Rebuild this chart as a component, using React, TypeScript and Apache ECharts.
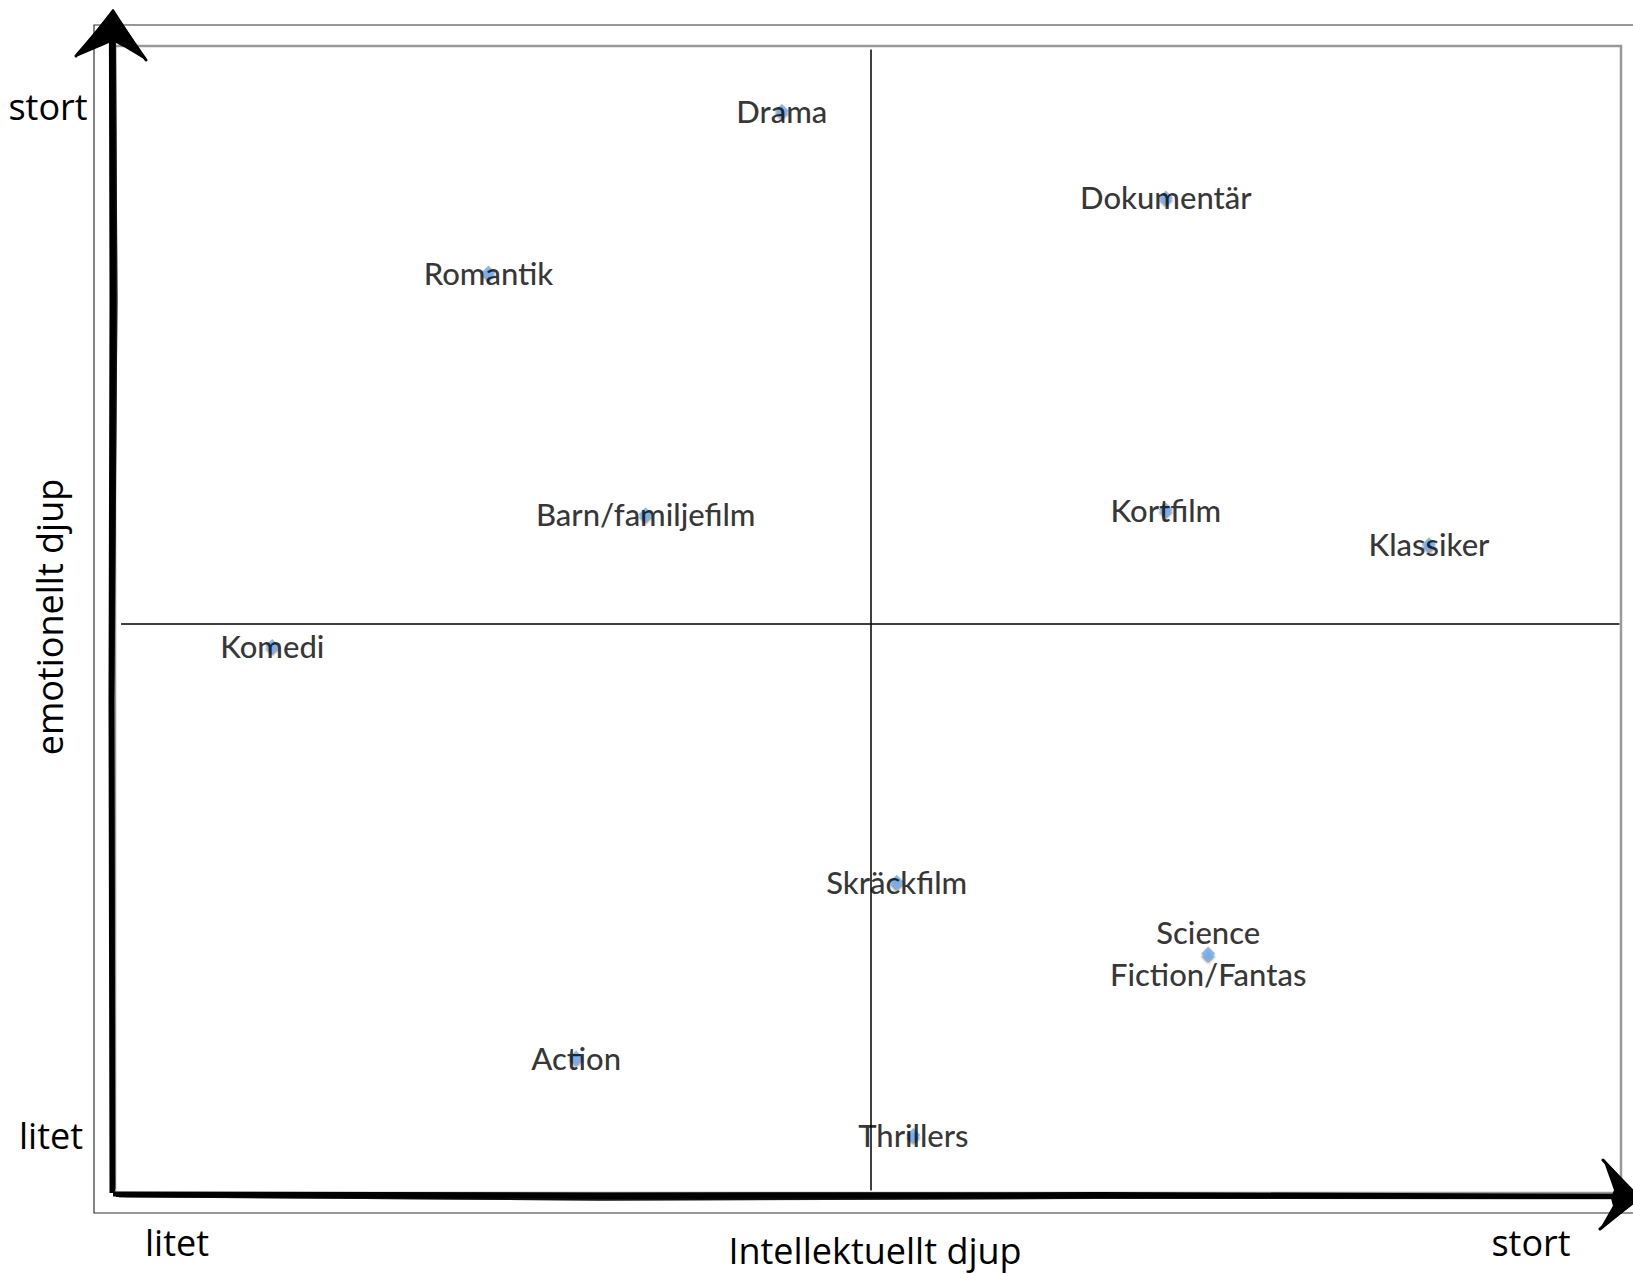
import React, { useEffect, useRef } from "react";
import * as echarts from "echarts";

const genres = ["Drama", "Dokumentär", "Romantik", "Barn/familjefilm", "Kortfilm", "Klassiker", "Komedi", "Skräckfilm", "Science\nFiction/Fantas", "Action", "Thrillers"];
const intellectual = [4.41, 6.95, 2.47, 3.51, 6.95, 8.69, 1.04, 5.17, 7.23, 3.05, 5.28];
const emotional = [9.44, 8.69, 8.04, 5.95, 5.99, 5.69, 4.81, 2.77, 2.15, 1.25, 0.58];
const axisLow = "litet";
const axisHigh = "stort";
const xTitle = "Intellektuellt djup";
const yTitle = "emotionellt djup";

const W = 1633;
const H = 1274;
const AXIS_FONT = "'Open Sans', 'Noto Sans', sans-serif";
const LABEL_FONT = "Lato, 'Noto Sans', sans-serif";

export default function App() {
  const ref = useRef<HTMLDivElement>(null);
  useEffect(() => {
    if (!ref.current) return;
    const chart = echarts.init(ref.current, undefined, { renderer: "svg" });
    const data = genres.map((g, i) => ({ name: g, value: [intellectual[i], emotional[i]] }));
    const axisText = (text: string, x: number, y: number, extra: any = {}) => ({
      type: "text",
      x,
      y,
      ...extra,
      style: { text, fill: "#000", font: `36px ${AXIS_FONT}`, textAlign: "center", textVerticalAlign: "middle" },
      z: 10,
    });
    const sketchLines: any[] = [];
    const vOff = [[-2, 5, 1], [0, 4, 1], [2, 3, 0.8], [-1, 2, 0.7], [3, 1, 0.6]];
    vOff.forEach(([dx, w, o], k) => {
      sketchLines.push({
        type: "polyline",
        shape: { points: [[113 + dx * 0.5, 1193 - k * 2], [112 + dx * 0.5, 700], [114 + dx, 300], [113 + dx * 0.8, 40]] },
        style: { stroke: "#000", lineWidth: w, fill: null, opacity: o },
        z: 20,
      });
    });
    const hOff = [[-2, 5, 1], [0, 4, 1], [2, 3, 0.8], [-3, 2, 0.6], [3, 1.5, 0.7]];
    hOff.forEach(([dy, w, o], k) => {
      sketchLines.push({
        type: "polyline",
        shape: { points: [[113 + k * 3, 1195 + dy * 0.5], [600, 1197 + dy], [1100, 1196 + dy * 0.7], [1620, 1197 + dy * 0.4]] },
        style: { stroke: "#000", lineWidth: w, fill: null, opacity: o },
        z: 20,
      });
    });
    // filled arrowheads
    sketchLines.push({
      type: "polygon",
      shape: { points: [[113, 10], [78, 55], [104, 44], [113, 40], [124, 46], [144, 58]] },
      style: { fill: "#000", stroke: "#000", lineWidth: 2, lineJoin: "round" },
      z: 21,
    });
    sketchLines.push({
      type: "polygon",
      shape: { points: [[1640, 1198], [1605, 1162], [1615, 1190], [1612, 1198], [1614, 1206], [1602, 1227]] },
      style: { fill: "#000", stroke: "#000", lineWidth: 2, lineJoin: "round" },
      z: 21,
    });
    // brush barbs
    [[[76, 56], [112, 14]], [[146, 60], [114, 14]], [[1603, 1160], [1636, 1196]], [[1600, 1229], [1636, 1200]]].forEach((pts) => {
      sketchLines.push({
        type: "polyline",
        shape: { points: pts },
        style: { stroke: "#000", lineWidth: 3, fill: null, lineCap: "round" },
        z: 21,
      });
    });

    chart.setOption({
      animation: false,
      backgroundColor: "#fff",
      grid: { left: 115, top: 46, width: 1512, height: 1156 },
      xAxis: { type: "value", min: 0, max: 10, show: false },
      yAxis: { type: "value", min: 0, max: 10, show: false },
      graphic: [
        { type: "rect", shape: { x: 94, y: 25, width: 1560, height: 1188 }, style: { fill: null, stroke: "#333", lineWidth: 1.2 }, z: 1 },
        { type: "rect", shape: { x: 115, y: 46, width: 1506, height: 1147 }, style: { fill: null, stroke: "#999", lineWidth: 2.5 }, z: 2 },
        ...sketchLines,
        axisText(axisHigh, 48, 106),
        axisText(axisLow, 51, 1135),
        axisText(axisLow, 177, 1242),
        axisText(axisHigh, 1531, 1242),
        axisText(xTitle, 875, 1250),
        axisText(yTitle, 49, 617, { rotation: Math.PI / 2 }),
      ],
      series: [
        {
          type: "scatter",
          data,
          symbol: "diamond",
          symbolSize: 14,
          itemStyle: { color: "#6aaaf2", shadowColor: "rgba(0,0,0,0.55)", shadowBlur: 2, shadowOffsetX: 0, shadowOffsetY: 3 },
          label: {
            show: true,
            position: "inside",
            formatter: (p: any) => p.name,
            color: "#000",
            fontFamily: LABEL_FONT,
            fontWeight: 500,
            fontSize: 31,
            lineHeight: 42,
            align: "center",
            verticalAlign: "middle",
          },
          markLine: {
            silent: true,
            symbol: ["none", "none"],
            label: { show: false },
            lineStyle: { color: "#000", width: 1.5, type: "solid" },
            data: [
              [{ coord: [5, 9.97] }, { coord: [5, 0.1] }],
              [{ coord: [0.04, 5] }, { coord: [9.95, 5] }],
            ],
          },
          z: 5,
        },
      ],
    });
    return () => chart.dispose();
  }, []);
  return <div ref={ref} style={{ position: "fixed", left: 0, top: 0, width: W, height: H }} />;
}
